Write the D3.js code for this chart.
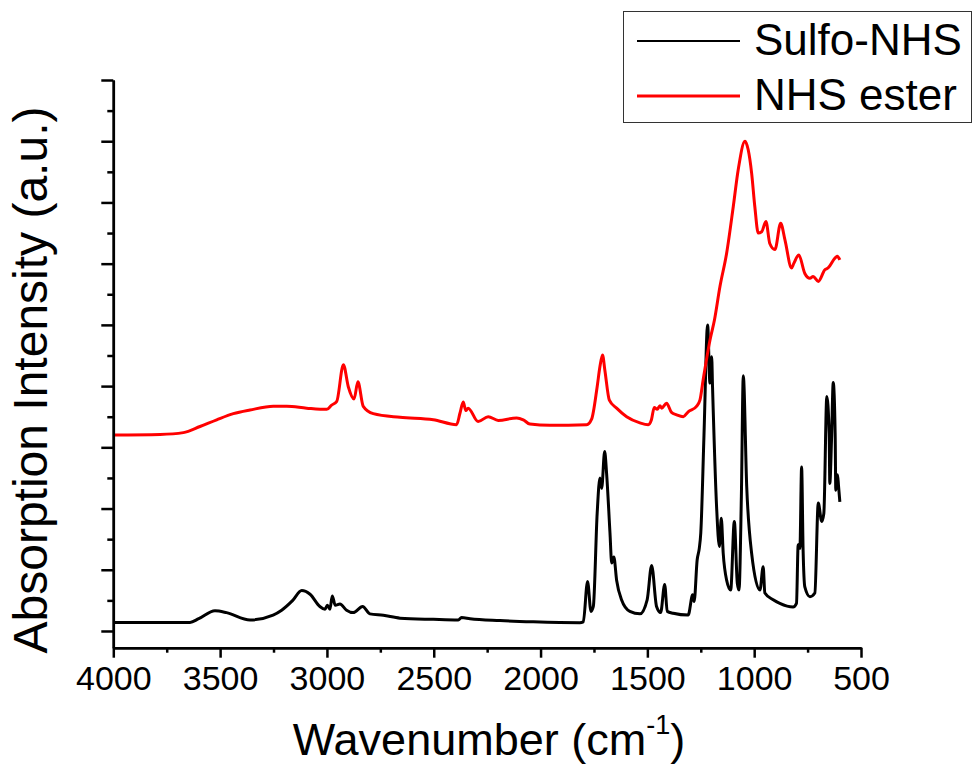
<!DOCTYPE html>
<html lang="en">
<head>
    <meta charset="UTF-8">
    <title>FTIR Sulfo-NHS vs NHS ester</title>
    <script src="https://d3js.org/d3.v7.min.js"></script>
    <style>
        body {
            margin: 0;
            background: #fff;
            font-family: "Liberation Sans", Arial, sans-serif;
        }
        .axis path, .axis line {
            stroke: #000;
            stroke-width: 2.5px;
        }
        .trace {
            fill: none;
            stroke-width: 3px;
            stroke-linejoin: round;
        }
    </style>
</head>
<body>
    <div id="chart"></div>

    <script>
        // wavenumber (cm-1) and absorption intensity (a.u.)
        const sulfoWn = [4000, 3641, 3600, 3524, 3470, 3360, 3252, 3212, 3160, 3118, 3079, 3033, 3009, 2998, 2986, 2975, 2961, 2939, 2908, 2877, 2833, 2799, 2736, 2658, 2502, 2385, 2370, 2330, 2190, 2034, 1816,
            1800, 1780, 1764, 1753, 1735, 1722, 1714, 1700, 1691, 1675, 1667, 1657, 1644, 1621, 1582, 1535, 1501, 1480, 1457, 1438, 1419, 1407, 1379, 1309, 1288, 1281, 1267, 1257, 1250, 1235, 1218, 1207, 1199, 1195, 1176, 1163, 1154, 1145, 1129, 1110, 1093, 1079, 1071, 1060, 1051, 1035, 1012, 973, 958, 950, 911, 880, 818, 802, 794, 786, 778, 771, 763, 739, 716, 700, 684, 674, 660, 649, 646, 638, 630, 621, 618, 610, 605, 599];
        const sulfoAbs = [0.14, 0.14, 0.2, 0.33, 0.3, 0.18, 0.26, 0.34, 0.5, 0.66, 0.6, 0.4, 0.355, 0.42, 0.355, 0.57, 0.42, 0.44, 0.34, 0.3, 0.4, 0.28, 0.256, 0.21, 0.19, 0.18, 0.22, 0.2, 0.17, 0.15, 0.136,
            0.15, 0.81, 0.32, 0.4, 1.92, 2.5, 2.33, 2.93, 2.58, 1.6, 1.11, 1.21, 0.83, 0.51, 0.32, 0.28, 0.51, 1.07, 0.4, 0.3, 0.76, 0.32, 0.29, 0.26, 0.59, 0.48, 1.16, 1.35, 1.6, 3.2, 5.0, 4.05, 4.48, 3.99, 2.03, 1.38, 1.84, 1.27, 0.83, 0.67, 1.79, 0.78, 0.67, 2.2, 4.17, 2.36, 1.27, 0.67, 1.05, 0.62, 0.51, 0.45, 0.39, 0.45, 1.41, 1.35, 2.68, 1.32, 0.72, 0.56, 0.62, 2.09, 1.79, 1.92, 3.83, 3.23, 2.41, 3.12, 4.06, 3.23, 2.3, 2.55, 2.36, 2.11];

        const esterWn = [4000, 3781, 3672, 3594, 3516, 3438, 3360, 3251, 3188, 3095, 3001, 2978, 2954, 2923, 2900, 2873, 2855, 2830, 2783, 2658, 2502, 2393, 2377, 2362, 2350, 2339, 2292, 2245, 2198, 2112, 2081, 2050, 1956, 1784,
            1761, 1735, 1722, 1710, 1699, 1678, 1644, 1597, 1535, 1496, 1481, 1468, 1454, 1441, 1433, 1410, 1387, 1363, 1332, 1309, 1270, 1254, 1239, 1207, 1186, 1160, 1129, 1098, 1075, 1043, 1028, 1012, 997, 981, 965, 945, 927, 903, 876, 856, 825, 815, 791, 763, 739, 724, 700, 669, 654, 622, 611, 599];
        const esterAbs = [3.2, 3.21, 3.24, 3.34, 3.45, 3.55, 3.61, 3.67, 3.67, 3.64, 3.62, 3.69, 3.75, 4.35, 3.99, 3.79, 4.07, 3.67, 3.55, 3.49, 3.45, 3.37, 3.56, 3.74, 3.6, 3.64, 3.42, 3.5, 3.44, 3.48, 3.45, 3.38, 3.36, 3.37,
            3.46, 3.99, 4.32, 4.51, 4.26, 3.77, 3.64, 3.5, 3.4, 3.37, 3.45, 3.65, 3.62, 3.68, 3.64, 3.72, 3.57, 3.53, 3.5, 3.58, 3.67, 3.77, 4.1, 4.75, 5.08, 5.63, 6.17, 6.93, 7.53, 8.0, 7.86, 7.48, 6.93, 6.5, 6.52, 6.69, 6.33, 6.23, 6.66, 6.39, 5.93, 6.0, 6.14, 5.84, 5.76, 5.79, 5.71, 5.9, 5.93, 6.09, 6.12, 6.06];

        const seriesNames = ["Sulfo-NHS", "NHS ester"];
        const seriesColors = ["#000000", "#ff0000"];
        const xMajorTicks = [4000, 3500, 3000, 2500, 2000, 1500, 1000, 500];

        const width = 975, height = 767;
        const plot = { left: 113.3, right: 861, top: 80, bottom: 647.7 };

        const svg = d3.select("#chart").append("svg")
            .attr("width", width)
            .attr("height", height);

        const x = d3.scaleLinear().domain([4000, 500]).range([plot.left, plot.right]);
        const y = d3.scaleLinear().domain([-0.273, 9]).range([plot.bottom, plot.top]);

        const series = [
            { name: seriesNames[0], color: seriesColors[0], values: sulfoWn.map((w, i) => ({ wn: w, a: sulfoAbs[i] })) },
            { name: seriesNames[1], color: seriesColors[1], values: esterWn.map((w, i) => ({ wn: w, a: esterAbs[i] })) }
        ];

        const line = d3.line()
            .x(d => x(d.wn))
            .y(d => y(d.a))
            .curve(d3.curveMonotoneX);

        svg.selectAll(".trace")
            .data(series)
            .enter().append("path")
            .attr("class", "trace")
            .attr("stroke", d => d.color)
            .attr("d", d => line(d.values));

        // x axis: minor ticks, then major ticks with labels
        svg.append("g")
            .attr("class", "axis")
            .attr("transform", `translate(0,${plot.bottom})`)
            .call(d3.axisBottom(x).tickValues(d3.range(3750, 500, -500)).tickSize(5).tickSizeOuter(0).tickFormat(""));

        const xAxis = svg.append("g")
            .attr("class", "axis")
            .attr("transform", `translate(0,${plot.bottom})`)
            .call(d3.axisBottom(x).tickValues(xMajorTicks).tickSize(10).tickSizeOuter(0).tickPadding(8).tickFormat(d3.format("d")));
        xAxis.selectAll("text")
            .attr("font-family", "Liberation Sans, Arial, sans-serif")
            .attr("font-size", 34)
            .attr("fill", "#000");

        // y axis: no labels, majors every unit, minors halfway
        svg.append("g")
            .attr("class", "axis")
            .attr("transform", `translate(${plot.left},0)`)
            .call(d3.axisLeft(y).tickValues(d3.range(0.5, 9, 1)).tickSize(6).tickSizeOuter(0).tickFormat(""));
        svg.append("g")
            .attr("class", "axis")
            .attr("transform", `translate(${plot.left},0)`)
            .call(d3.axisLeft(y).tickValues(d3.range(0, 9.01, 1)).tickSize(12).tickSizeOuter(0).tickFormat(""));

        // axis titles
        const xTitle = svg.append("text")
            .attr("x", 489)
            .attr("y", 755)
            .attr("text-anchor", "middle")
            .attr("font-size", 45)
            .text("Wavenumber (cm");
        xTitle.append("tspan")
            .attr("font-size", 27)
            .attr("dy", -21)
            .text("-1");
        xTitle.append("tspan")
            .attr("dy", 21)
            .text(")");

        svg.append("text")
            .attr("transform", "rotate(-90)")
            .attr("x", -380)
            .attr("y", 47)
            .attr("text-anchor", "middle")
            .attr("font-size", 48)
            .text("Absorption Intensity (a.u.)");

        // legend
        const legend = svg.append("g");
        legend.append("rect")
            .attr("x", 623.5)
            .attr("y", 11.5)
            .attr("width", 348)
            .attr("height", 111)
            .attr("fill", "#fff")
            .attr("stroke", "#333")
            .attr("stroke-width", 1);

        const legendRows = [41, 96];
        series.forEach((s, i) => {
            legend.append("line")
                .attr("x1", 637).attr("x2", 740)
                .attr("y1", legendRows[i]).attr("y2", legendRows[i])
                .attr("stroke", s.color)
                .attr("stroke-width", i === 0 ? 2 : 3);
            legend.append("text")
                .attr("x", 754)
                .attr("y", legendRows[i] + 14)
                .attr("font-size", 44)
                .text(s.name);
        });
    </script>
</body>
</html>
